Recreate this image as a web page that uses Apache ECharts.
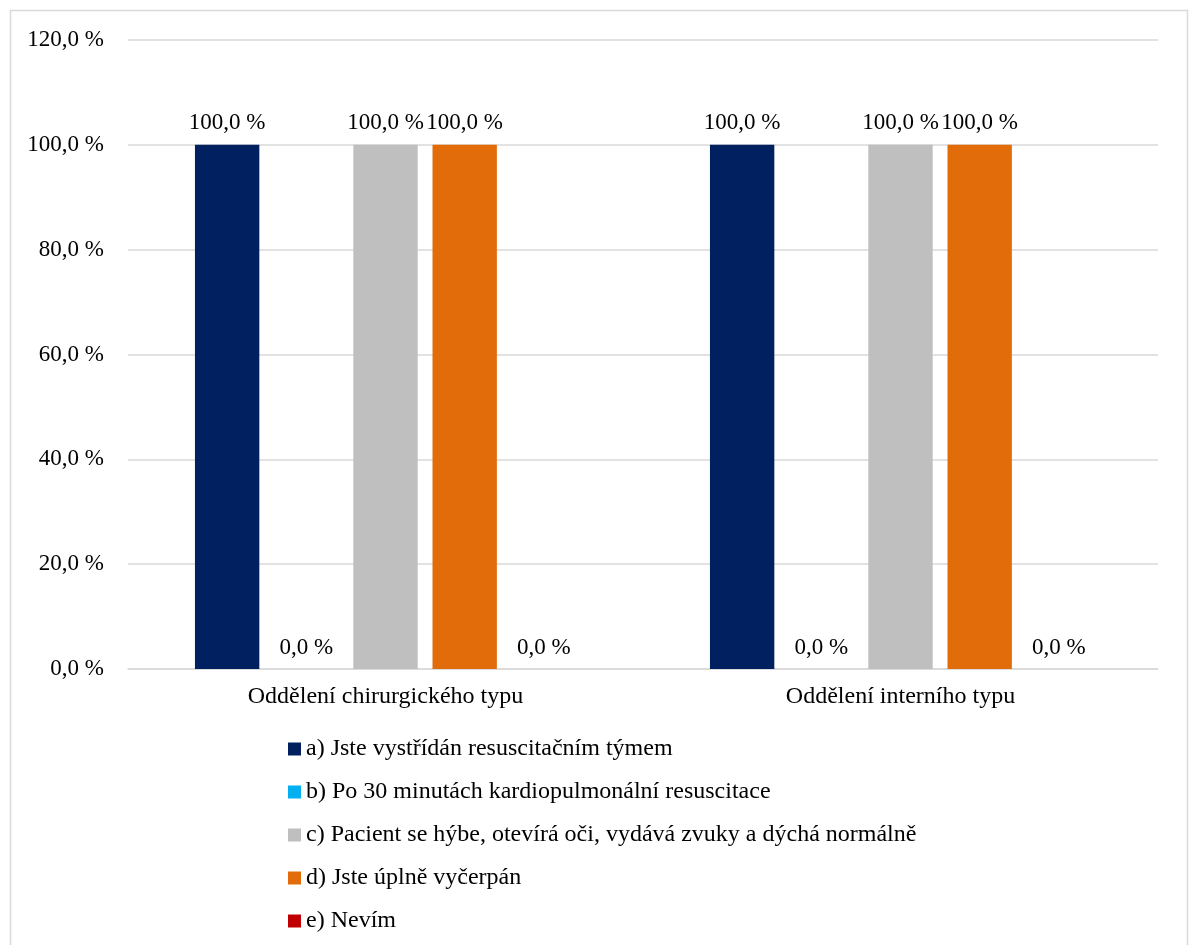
<!DOCTYPE html>
<html>
<head>
<meta charset="utf-8">
<style>
  html, body { margin: 0; padding: 0; background: #ffffff; }
  #chart { width: 1190px; height: 945px; }
</style>
<script src="https://cdn.jsdelivr.net/npm/echarts@6/dist/echarts.min.js"></script>
</head>
<body>
<div id="chart"></div>
<script>
// Categories (department types)
const categories = ['Oddělení chirurgického typu', 'Oddělení interního typu'];

// Series names (answers)
const seriesNames = [
  'a) Jste vystřídán resuscitačním týmem',
  'b) Po 30 minutách kardiopulmonální resuscitace',
  'c) Pacient se hýbe, otevírá oči, vydává zvuky a dýchá normálně',
  'd) Jste úplně vyčerpán',
  'e) Nevím'
];

// Percentages per answer, one value per department
const valuesA = [100, 100];
const valuesB = [0, 0];
const valuesC = [100, 100];
const valuesD = [100, 100];
const valuesE = [0, 0];

const colors = ['#002060', '#00B0F0', '#BFBFBF', '#E36C0A', '#C00000'];

const seriesValues = [valuesA, valuesB, valuesC, valuesD, valuesE];
const fontFamily = '"Liberation Serif", "Times New Roman", serif';

function pct(v) {
  return v.toFixed(1).replace('.', ',') + ' %';
}

const chart = echarts.init(document.getElementById('chart'), null, { renderer: 'canvas' });

chart.setOption({
  backgroundColor: '#ffffff',
  animation: false,
  textStyle: { fontFamily: fontFamily },
  graphic: [{
    type: 'rect',
    shape: { x: 10.5, y: 10.5, width: 1177, height: 945 },
    style: { fill: 'none', stroke: '#D9D9D9', lineWidth: 1.5 },
    silent: true,
    z: -1
  }],
  grid: { left: 128, right: 32, top: 40, bottom: 276, containLabel: false },
  xAxis: {
    type: 'category',
    data: categories,
    axisLine: { lineStyle: { color: '#D9D9D9', width: 1.5 } },
    axisTick: { show: false },
    axisLabel: { color: '#000000', fontSize: 24, fontFamily: fontFamily, margin: 16 }
  },
  yAxis: {
    type: 'value',
    min: 0,
    max: 120,
    interval: 20,
    axisLine: { show: false },
    axisTick: { show: false },
    splitLine: { lineStyle: { color: '#D9D9D9', width: 1.5 } },
    axisLabel: {
      color: '#000000',
      fontSize: 23,
      fontFamily: fontFamily,
      margin: 24,
      formatter: pct
    }
  },
  legend: {
    orient: 'vertical',
    left: 283,
    top: 732,
    height: 240,
    itemWidth: 13,
    itemHeight: 13,
    itemGap: 19,
    icon: 'rect',
    data: seriesNames,
    textStyle: { color: '#000000', fontSize: 24, fontFamily: fontFamily }
  },
  series: seriesNames.map((name, i) => ({
    name: name,
    type: 'bar',
    data: seriesValues[i],
    barGap: '23%',
    barCategoryGap: '26%',
    itemStyle: { color: colors[i] },
    label: {
      show: true,
      position: 'top',
      distance: 10,
      color: '#000000',
      fontSize: 23,
      fontFamily: fontFamily,
      formatter: p => pct(p.value)
    }
  }))
});
</script>
</body>
</html>
